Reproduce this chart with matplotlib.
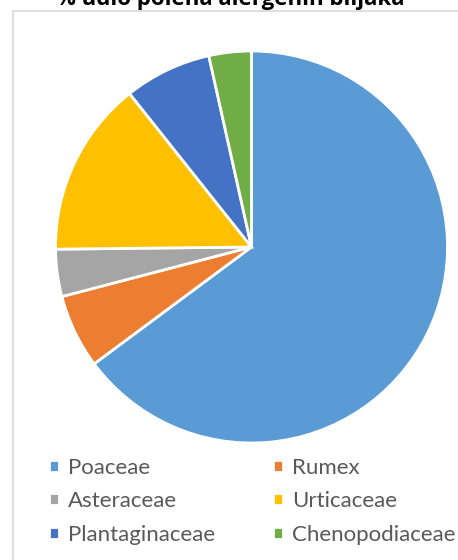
import matplotlib.pyplot as plt
from matplotlib.patches import Rectangle

# pollen share per plant family (%)
labels = ['Poaceae', 'Rumex', 'Asteraceae', 'Urticaceae', 'Plantaginaceae', 'Chenopodiaceae']
values = [64.9, 6.1, 3.9, 14.5, 7.2, 3.5]
colors = ['#5B9BD5', '#ED7D31', '#A5A5A5', '#FFC000', '#4472C4', '#70AD47']

fig = plt.figure(figsize=(4.58, 5.6), dpi=100)

# chart frame (light gray border, right/bottom edges fall off the picture)
fig.patches.append(Rectangle((12.5 / 458, -0.1), 1.2, (560 - 10.5) / 560 + 0.1,
                             transform=fig.transFigure, fill=False,
                             edgecolor='#D9D9D9', linewidth=1.2))

ax = fig.add_axes([55.5 / 458, 117 / 560, 392 / 458, 392 / 560])
wedges, _ = ax.pie(values, colors=colors, startangle=90, counterclock=False,
                   wedgeprops={'edgecolor': 'white', 'linewidth': 2})
ax.set_xlim(-1, 1)
ax.set_ylim(-1, 1)
ax.set_aspect('equal')

# title, top half cut off as in the original
fig.text(230 / 458, 1.0, '% udio polena alergenih biljaka', ha='center', va='center',
         fontsize=16, fontweight='bold', family=['Open Sans', 'DejaVu Sans'], color='black')

# legend in two columns, filled row by row
order = [0, 2, 4, 1, 3, 5]
leg = fig.legend([wedges[i] for i in order], [labels[i] for i in order], ncol=2,
                 loc='upper left', bbox_to_anchor=(29 / 458, 1 - 438 / 560), frameon=False,
                 prop={'family': ['Lato', 'DejaVu Sans'], 'size': 16},
                 handlelength=0.45, handleheight=0.45, handletextpad=0.4,
                 columnspacing=2.6, labelspacing=0.6, labelcolor='#595959')

plt.savefig('out.png', dpi=100)
